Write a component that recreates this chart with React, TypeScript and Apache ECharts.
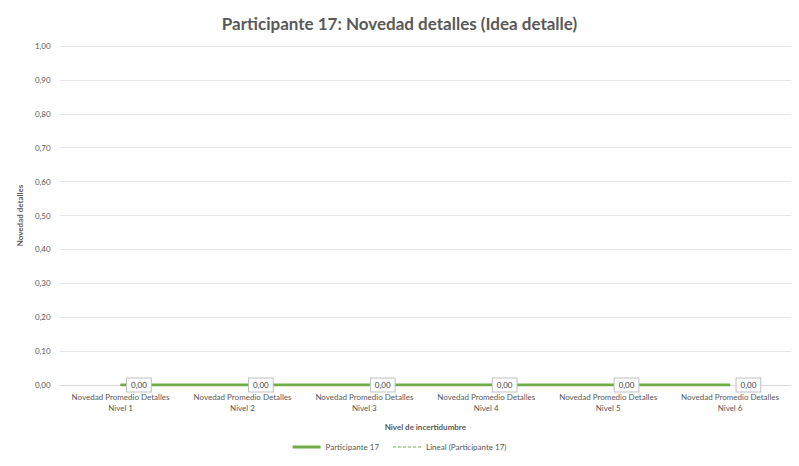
import React, { useEffect, useRef } from "react";
import * as echarts from "echarts";

const categories = [
  "Novedad Promedio Detalles\nNivel 1",
  "Novedad Promedio Detalles\nNivel 2",
  "Novedad Promedio Detalles\nNivel 3",
  "Novedad Promedio Detalles\nNivel 4",
  "Novedad Promedio Detalles\nNivel 5",
  "Novedad Promedio Detalles\nNivel 6",
];
const participante = [0, 0, 0, 0, 0, 0];
const lineal = [0, 0, 0, 0, 0, 0];
const yTicks = [0, 0.1, 0.2, 0.3, 0.4, 0.5, 0.6, 0.7, 0.8, 0.9, 1.0];

const FONT = "Lato, 'Open Sans', sans-serif";

export default function App() {
  const ref = useRef<HTMLDivElement>(null);
  useEffect(() => {
    if (!ref.current) return;
    const chart = echarts.init(ref.current, undefined, { renderer: "svg" });
    chart.setOption({
      animation: false,
      textStyle: { fontFamily: FONT },
      title: {
        text: "Participante 17: Novedad detalles (Idea detalle)",
        left: "center",
        top: 2,
        textStyle: { fontFamily: FONT, fontSize: 17, fontWeight: "bold", color: "#595959" },
      },
      grid: { left: 42, right: 0, top: 38, bottom: 81, containLabel: false },
      legend: {
        bottom: 10,
        left: "center",
        itemWidth: 28,
        itemHeight: 3,
        itemGap: 14,
        textStyle: { fontFamily: FONT, fontSize: 8, color: "#595959" },
        data: [
          { name: "Participante 17", icon: "rect" },
          { name: "Lineal (Participante 17)", icon: "path://M0,0H3V1H0Z M5,0H8V1H5Z M10,0H13V1H10Z M15,0H18V1H15Z M20,0H23V1H20Z M25,0H28V1H25Z" },
        ],
      },
      xAxis: {
        type: "category",
        data: categories,
        boundaryGap: true,
        name: "Nivel de incertidumbre",
        nameLocation: "middle",
        nameGap: 38,
        nameTextStyle: { fontFamily: FONT, fontSize: 8, fontWeight: "bold", color: "#595959" },
        axisLine: { lineStyle: { color: "#d9d9d9" } },
        axisTick: { show: false },
        axisLabel: { interval: 0, fontFamily: FONT, fontSize: 8, color: "#595959", lineHeight: 11, margin: 6 },
      },
      yAxis: {
        type: "value",
        min: 0,
        max: 1,
        interval: 0.1,
        name: "Novedad detalles",
        nameLocation: "middle",
        nameGap: 32,
        nameTextStyle: { fontFamily: FONT, fontSize: 8, fontWeight: "bold", color: "#595959" },
        axisLine: { show: false },
        axisTick: { show: false },
        splitLine: { lineStyle: { color: "#e6e6e6" } },
        axisLabel: {
          fontFamily: FONT,
          fontSize: 8,
          color: "#595959",
          margin: 9,
          formatter: (v: number) => {
            const t = yTicks.find((x) => Math.abs(x - v) < 1e-9);
            return (t ?? v).toFixed(2).replace(".", ",");
          },
        },
      },
      series: [
        {
          name: "Lineal (Participante 17)",
          type: "line",
          data: lineal,
          symbol: "none",
          lineStyle: { color: "#70ad47", width: 1, type: [3, 2] },
          itemStyle: { color: "#70ad47" },
          z: 1,
        },
        {
          name: "Participante 17",
          type: "line",
          data: participante,
          symbol: "circle",
          symbolSize: 1,
          showSymbol: true,
          lineStyle: { color: "#70ad47", width: 3 },
          itemStyle: { color: "#70ad47" },
          z: 2,
          labelLayout: { hideOverlap: false },
          label: {
            show: true,
            position: "right",
            distance: 6,
            offset: [0, -1],
            fontFamily: FONT,
            fontSize: 8,
            color: "#404040",
            backgroundColor: "#ffffff",
            borderColor: "#bfbfbf",
            borderWidth: 1,
            padding: [3, 4, 2, 4],
            formatter: (p: any) => Number(p.value).toFixed(2).replace(".", ","),
          },
        },
      ],
    });
    return () => chart.dispose();
  }, []);
  return <div ref={ref} style={{ width: 783, height: 458 }} />;
}
